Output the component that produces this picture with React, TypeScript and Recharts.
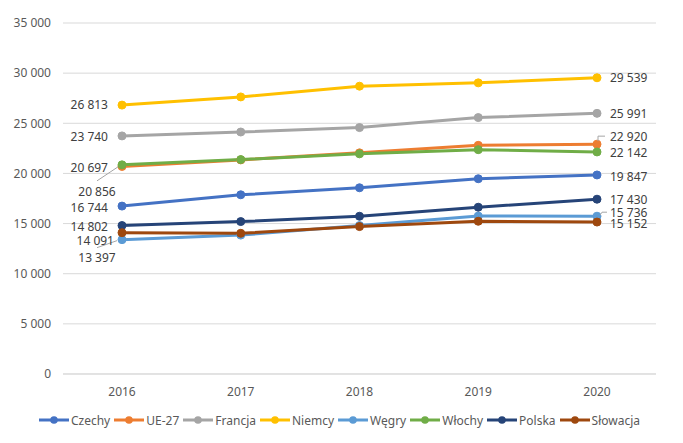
import React from 'react';
import { LineChart, Line, XAxis, YAxis, CartesianGrid, Legend, LabelList } from 'recharts';

const years = ['2016', '2017', '2018', '2019', '2020'];
const czechy = [16744, 17870, 18570, 19470, 19847];
const ue27 = [20697, 21350, 22050, 22800, 22920];
const francja = [23740, 24130, 24570, 25570, 25991];
const niemcy = [26813, 27630, 28700, 29030, 29539];
const wegry = [13397, 13850, 14800, 15750, 15736];
const wlochy = [20856, 21380, 21950, 22370, 22142];
const polska = [14802, 15200, 15730, 16630, 17430];
const slowacja = [14091, 14030, 14700, 15230, 15152];
const yTicks = [0, 5000, 10000, 15000, 20000, 25000, 30000, 35000];

const FONT = '"Noto Sans", "Open Sans", sans-serif';

type LabelCfg = { dx: number; dy: number; anchor: 'start' | 'middle' | 'end'; leader?: number[][] };
type SeriesDef = { key: string; name: string; color: string; values: number[]; first: LabelCfg; last: LabelCfg };

const series: SeriesDef[] = [
  { key: 'czechy', name: 'Czechy', color: '#4472C4', values: czechy,
    first: { dx: -14, dy: 1.5, anchor: 'end' }, last: { dx: 13, dy: 1.5, anchor: 'start' } },
  { key: 'ue27', name: 'UE-27', color: '#ED7D31', values: ue27,
    first: { dx: -14, dy: 1, anchor: 'end' },
    last: { dx: 13, dy: -7, anchor: 'start', leader: [[1, -3], [1, -8], [8, -8]] } },
  { key: 'francja', name: 'Francja', color: '#A5A5A5', values: francja,
    first: { dx: -14, dy: 0.5, anchor: 'end' }, last: { dx: 13, dy: 0, anchor: 'start' } },
  { key: 'niemcy', name: 'Niemcy', color: '#FFC000', values: niemcy,
    first: { dx: -14, dy: 0, anchor: 'end' }, last: { dx: 13, dy: 0.5, anchor: 'start' } },
  { key: 'wegry', name: 'Węgry', color: '#5B9BD5', values: wegry,
    first: { dx: -25, dy: 18, anchor: 'middle', leader: [[-25, 8], [-5, 1]] },
    last: { dx: 13, dy: -3, anchor: 'start', leader: [[3, -1], [5, -4], [10, -4]] } },
  { key: 'wlochy', name: 'Włochy', color: '#70AD47', values: wlochy,
    first: { dx: -25, dy: 26.5, anchor: 'middle', leader: [[-25, 16], [-4, 2]] },
    last: { dx: 13, dy: 0.5, anchor: 'start' } },
  { key: 'polska', name: 'Polska', color: '#264478', values: polska,
    first: { dx: -14, dy: 1, anchor: 'end' }, last: { dx: 13, dy: 1, anchor: 'start' } },
  { key: 'slowacja', name: 'Słowacja', color: '#9E480E', values: slowacja,
    first: { dx: -8, dy: 8, anchor: 'end' }, last: { dx: 13, dy: 2, anchor: 'start' } },
];

const data = years.map((y, i) => {
  const row: Record<string, any> = { year: y };
  series.forEach((s) => { row[s.key] = s.values[i]; });
  return row;
});

const fmt = (v: number) => {
  const s = String(Math.round(v));
  return s.length > 3 ? s.slice(0, s.length - 3) + ' ' + s.slice(s.length - 3) : s;
};

const makeLabel = (s: SeriesDef) => (props: any) => {
  const { x, y, value, index } = props;
  const c = index === 0 ? s.first : index === years.length - 1 ? s.last : null;
  if (!c) return null;
  return (
    <g>
      {c.leader && (
        <polyline
          points={c.leader.map(([a, b]) => `${x + a},${y + b}`).join(' ')}
          stroke="#A6A6A6" strokeWidth={1} fill="none"
        />
      )}
      <text x={x + c.dx} y={y + c.dy} dy="0.35em" textAnchor={c.anchor}
        fontSize={12} fill="#404040" fontFamily={FONT}>
        {fmt(value)}
      </text>
    </g>
  );
};

const renderLegend = () => (
  <div style={{ display: 'flex', justifyContent: 'center', alignItems: 'center', height: 16,
    fontFamily: FONT, fontSize: 12, color: '#595959' }}>
    {series.map((s) => (
      <div key={s.key} style={{ display: 'flex', alignItems: 'center', marginRight: 4 }}>
        <svg width={30} height={10} style={{ display: 'block' }}>
          <line x1={0} y1={5} x2={30} y2={5} stroke={s.color} strokeWidth={3} />
          <circle cx={15} cy={5} r={3.8} fill={s.color} />
        </svg>
        <span style={{ marginLeft: 2 }}>{s.name}</span>
      </div>
    ))}
  </div>
);

export default function App() {
  return (
    <div style={{ position: 'absolute', left: 0, top: 0, width: 683, height: 443, background: '#fff' }}>
      <LineChart width={683} height={443} data={data}
        margin={{ top: 23, right: 27, bottom: 39, left: 0 }}>
        <CartesianGrid horizontal vertical={false} stroke="#D9D9D9" strokeWidth={1} />
        <XAxis dataKey="year" height={30} padding={{ left: 59, right: 59 }} axisLine={{ stroke: '#D9D9D9' }}
          tickLine={false} tickSize={0} tickMargin={13}
          tick={{ fontSize: 12, fill: '#595959', fontFamily: FONT }} />
        <YAxis width={63} domain={[0, 35000]} ticks={yTicks} interval={0} axisLine={false}
          tickLine={false} tickSize={0} tickMargin={12} tickFormatter={fmt}
          tick={{ fontSize: 12, fill: '#595959', fontFamily: FONT }} />
        <Legend verticalAlign="middle" align="center" layout="horizontal" content={renderLegend}
          wrapperStyle={{ top: 412, left: 0, width: 683 }} />
        {series.map((s) => (
          <Line key={s.key} type="linear" dataKey={s.key} name={s.name} stroke={s.color}
            strokeWidth={3} dot={{ r: 4, fill: s.color, stroke: s.color, strokeWidth: 1 }}
            activeDot={false} isAnimationActive={false}>
            <LabelList dataKey={s.key} content={makeLabel(s)} />
          </Line>
        ))}
      </LineChart>
    </div>
  );
}
